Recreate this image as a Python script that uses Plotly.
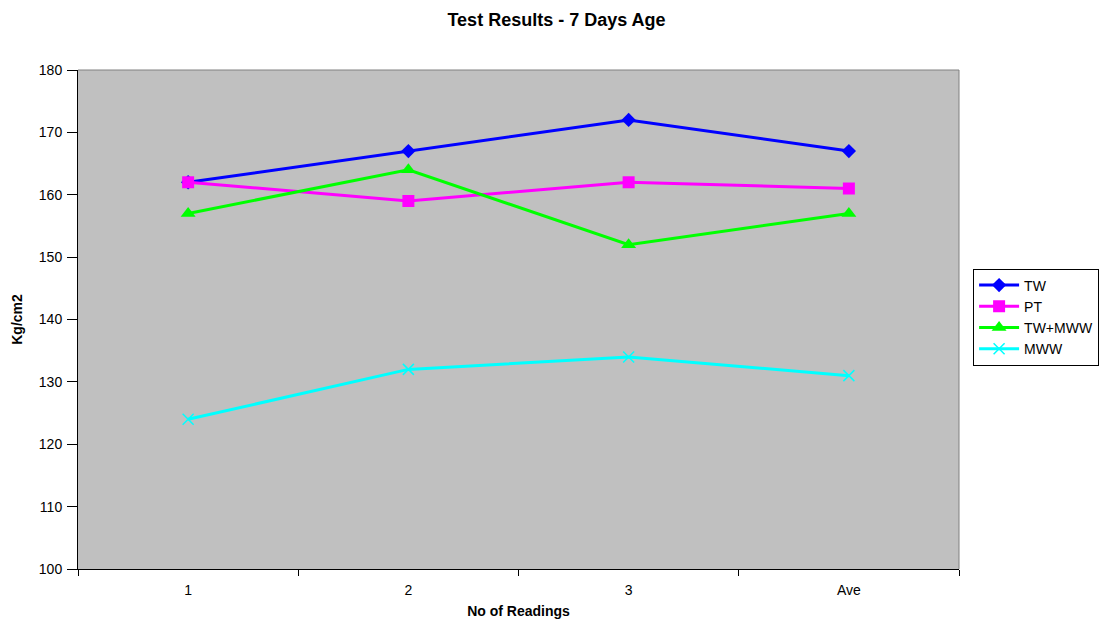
import plotly.graph_objects as go

readings = ["1", "2", "3", "Ave"]
tw = [162, 167, 172, 167]
pt = [162, 159, 162, 161]
tw_mww = [157, 164, 152, 157]
mww = [124, 132, 134, 131]

y_ticks = [100, 110, 120, 130, 140, 150, 160, 170, 180]

font_family = "Liberation Sans, Arial, sans-serif"

fig = go.Figure()
fig.add_trace(go.Scatter(
    x=readings, y=tw, name="TW", mode="lines+markers",
    line=dict(color="#0000FF", width=3),
    marker=dict(symbol="diamond", size=11, color="#0000FF"),
))
fig.add_trace(go.Scatter(
    x=readings, y=pt, name="PT", mode="lines+markers",
    line=dict(color="#FF00FF", width=3),
    marker=dict(symbol="square", size=12, color="#FF00FF"),
))
fig.add_trace(go.Scatter(
    x=readings, y=tw_mww, name="TW+MWW", mode="lines+markers",
    line=dict(color="#00FF00", width=3),
    marker=dict(symbol="triangle-up", size=13, color="#00FF00"),
))
fig.add_trace(go.Scatter(
    x=readings, y=mww, name="MWW", mode="lines+markers",
    line=dict(color="#00FFFF", width=3),
    marker=dict(symbol="x-thin-open", size=11, color="#00FFFF",
                line=dict(color="#00FFFF", width=1.5)),
))

fig.update_layout(
    width=1113, height=626,
    margin=dict(l=78, r=154, t=70, b=57),
    paper_bgcolor="white",
    plot_bgcolor="#C0C0C0",
    font=dict(family=font_family, size=14, color="black"),
    title=dict(text="<b>Test Results - 7 Days Age</b>", x=0.5, xanchor="center",
               y=0.968, yanchor="middle", font=dict(size=18, color="black")),
    xaxis=dict(
        type="category", range=[-0.5, 3.5], automargin=False,
        tickson="boundaries", ticks="outside", ticklen=6, tickcolor="black",
        ticklabelstandoff=8,
        showgrid=False, zeroline=False,
        showline=True, linecolor="black", linewidth=1, mirror=False,
        title=dict(text="<b>No of Readings</b>", font=dict(size=14), standoff=9),
        tickfont=dict(size=14),
    ),
    yaxis=dict(
        range=[100, 180], tickvals=y_ticks, automargin=False,
        ticks="outside", ticklen=10, tickcolor="black",
        ticklabelstandoff=2,
        showgrid=False, zeroline=False,
        showline=True, linecolor="black", linewidth=1,
        title=dict(text="<b>Kg/cm2</b>", font=dict(size=14), standoff=12),
        tickfont=dict(size=14),
    ),
    legend=dict(
        x=1.016, xanchor="left", y=0.505, yanchor="middle",
        bgcolor="white", bordercolor="black", borderwidth=1,
        font=dict(size=14), tracegroupgap=0, itemwidth=40,
    ),
    showlegend=True,
)

# thin grey frame along the top and right of the plot area
fig.add_shape(type="line", xref="paper", yref="paper", x0=0, x1=1, y0=1, y1=1,
              line=dict(color="#808080", width=1))
fig.add_shape(type="line", xref="paper", yref="paper", x0=1, x1=1, y0=0, y1=1,
              line=dict(color="#808080", width=1))

fig.write_html("out.html")
